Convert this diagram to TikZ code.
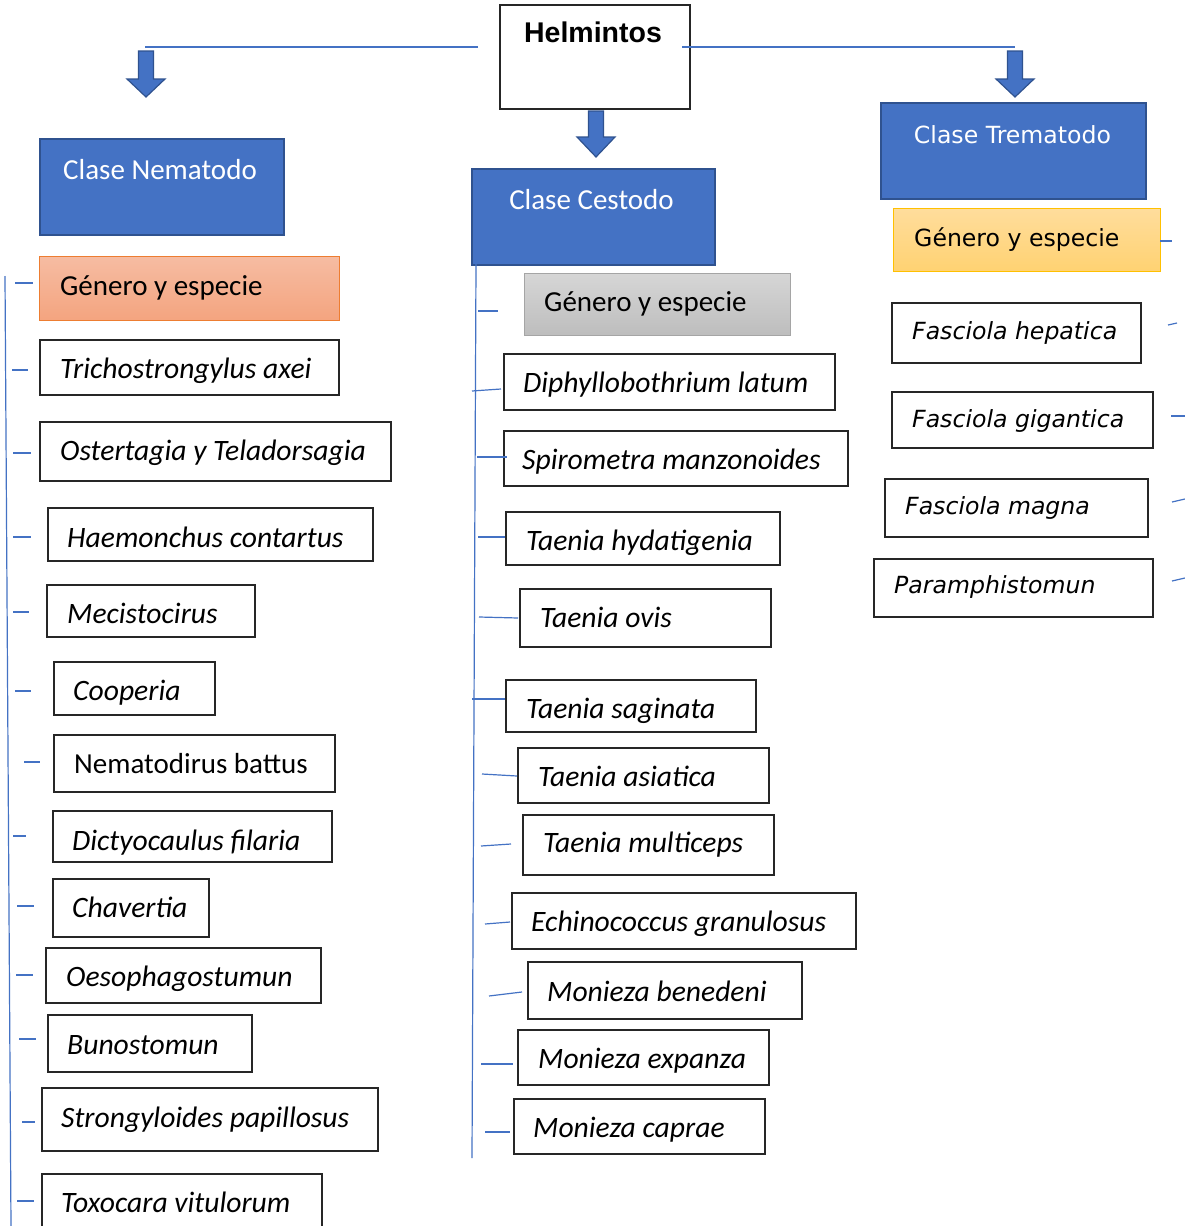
\documentclass[tikz,border=0pt]{standalone}
\usepackage{fontspec}
\setmainfont{Carlito}
\newfontfamily\dv{DejaVu Sans}[ItalicFont={DejaVu Sans Oblique}]
\newfontfamily\ar{Liberation Sans}
\definecolor{accent}{HTML}{4472C4}
\definecolor{accentdk}{HTML}{2F528F}
\definecolor{orgb}{HTML}{ED7D31}
\definecolor{orgt}{HTML}{F6BCA2}
\definecolor{orgbt}{HTML}{F4A47F}
\definecolor{gryb}{HTML}{A5A5A5}
\definecolor{gryt}{HTML}{D6D6D6}
\definecolor{grybt}{HTML}{BDBDBD}
\definecolor{ylwb}{HTML}{FFC000}
\definecolor{ylwt}{HTML}{FFDD9C}
\definecolor{ylwbt}{HTML}{FFD272}
\newcommand\spit{\itshape\fontsize{29.6}{34}\selectfont}
\tikzset{
  spbox/.style={draw=black!85, line width=1.5pt, fill=white, inner sep=0pt, anchor=north west},
  clase/.style={draw=accentdk, fill=accent, line width=2pt, inner sep=0pt, anchor=north west},
  gennem/.style={draw=orgb, line width=1.3pt, top color=orgt, bottom color=orgbt, inner sep=0pt, anchor=north west},
  gences/.style={draw=gryb, line width=1.3pt, top color=gryt, bottom color=grybt, inner sep=0pt, anchor=north west},
  gentre/.style={draw=ylwb, line width=1.3pt, top color=ylwt, bottom color=ylwbt, inner sep=0pt, anchor=north west},
  topbox/.style={draw=black!85, line width=1.5pt, fill=white, inner sep=0pt, anchor=north west},
  link/.style={draw=accent, line width=1.2pt},
  blockarrow/.style={fill=accent, draw=accentdk, line width=1.2pt},
  ctxt/.style={anchor=base west, inner sep=0pt, font=\fontsize{29}{34}\selectfont},
  dtxt/.style={anchor=base west, inner sep=0pt, font=\dv\fontsize{23.6}{28}\selectfont},
  wtxt/.style={anchor=base, inner sep=0pt, text=white, font=\fontsize{29}{34}\selectfont},
  wdtxt/.style={anchor=base, inner sep=0pt, text=white, font=\dv\fontsize{23.6}{28}\selectfont},
}
% #1 box style, #2 name, #3 x1, #4 y1, #5 x2, #6 y2, #7 text x, #8 text baseline, #9 text
\newcommand\mybx[9]{%
  \node[#1, minimum width={(#5-#3)*1pt}, minimum height={(#6-#4)*1pt}] (#2) at (#3,#4) {};
  \node[ctxt] (#2t) at (#7,#8) {#9};
}
\newcommand\mybxd[9]{%
  \node[#1, minimum width={(#5-#3)*1pt}, minimum height={(#6-#4)*1pt}] (#2) at (#3,#4) {};
  \node[dtxt] (#2t) at (#7,#8) {#9};
}
\newcommand\myarrow[4]{%
  \path[blockarrow] ({#1-7.5},#2) -- ({#1+7.5},#2) -- ({#1+7.5},#3) -- ({#1+19},#3)
    -- (#1,#4) -- ({#1-19},#3) -- ({#1-7.5},#3) -- cycle;
}
\begin{document}
\begin{tikzpicture}[x=1pt,y=-1pt]
\useasboundingbox[fill=white] (0,0) rectangle (1185,1226);

% top
\node[topbox, minimum width=190pt, minimum height=104pt] (helm) at (499,4) {};
\node[anchor=base, inner sep=0pt, font=\ar\bfseries\fontsize{28.5}{34}\selectfont] (helmt) at (593,42) {Helmintos};
\coordinate (hl1) at (145,47); \coordinate (hl2) at (478,47);
\coordinate (hr1) at (682,47); \coordinate (hr2) at (1015,47);
\draw[link] (hl2) -- (hl1);
\draw[link] (hr1) -- (hr2);
\myarrow{146}{51}{79}{97}
\myarrow{596}{111}{137}{157}
\myarrow{1015}{51}{79}{97}

% class boxes
\node[clase, minimum width=244pt, minimum height=96pt] (nem) at (39,138) {};
\node[wtxt] (nemt) at (160,179) {Clase Nematodo};
\node[clase, minimum width=243pt, minimum height=96pt] (ces) at (471,168) {};
\node[wtxt] (cest) at (591.5,209) {Clase Cestodo};
\node[clase, minimum width=265pt, minimum height=96pt] (tre) at (880,102) {};
\node[wdtxt] (tret) at (1012.5,143) {Clase Trematodo};

% genero boxes
\mybx{gennem}{gn}{39}{256}{339}{320}{60}{295}{Género y especie}
\mybx{gences}{gc}{524}{273}{790}{335}{544}{311}{Género y especie}
\mybxd{gentre}{gt}{893}{208}{1160}{271}{914}{246.5}{Género y especie}

% Nematodo species
\mybx{spbox}{n1}{39}{339}{338}{394}{60}{378}{\spit Trichostrongylus axei}
\mybx{spbox}{n2}{39}{421}{390}{480}{60}{460}{\spit Ostertagia y Teladorsagia}
\mybx{spbox}{n3}{47}{507}{372}{560}{67}{547}{\spit Haemonchus contartus}
\mybx{spbox}{n4}{46}{584}{254}{636}{67}{623}{\spit Mecistocirus}
\mybx{spbox}{n5}{53}{661}{214}{714}{73}{700}{\spit Cooperia}
\mybx{spbox}{n6}{53}{734}{334}{791}{74}{773}{Nematodirus battus}
\mybx{spbox}{n7}{52}{810}{331}{861}{72}{850}{\spit Dictyocaulus filaria}
\mybx{spbox}{n8}{52}{878}{208}{936}{72}{917}{\spit Chavertia}
\mybx{spbox}{n9}{45}{947}{320}{1002}{66}{986}{\spit Oesophagostumun}
\mybx{spbox}{n10}{47}{1014}{251}{1071}{67}{1054}{\spit Bunostomun}
\mybx{spbox}{n11}{41}{1087}{377}{1150}{61}{1127}{\spit Strongyloides papillosus}
\mybx{spbox}{n12}{41}{1173}{321}{1240}{61}{1212}{\spit Toxocara vitulorum}

% Cestodo species
\mybx{spbox}{c1}{503}{353}{834}{409}{523}{392}{\spit Diphyllobothrium latum}
\mybx{spbox}{c2}{503}{430}{847}{485}{522}{469}{\spit Spirometra manzonoides}
\mybx{spbox}{c3}{505}{511}{779}{564}{526}{550}{\spit Taenia hydatigenia}
\mybx{spbox}{c4}{519}{588}{770}{646}{540}{627}{\spit Taenia ovis}
\mybx{spbox}{c5}{505}{679}{755}{731}{526}{718}{\spit Taenia saginata}
\mybx{spbox}{c6}{517}{747}{768}{802}{538}{786}{\spit Taenia asiatica}
\mybx{spbox}{c7}{522}{814}{773}{874}{543}{852}{\spit Taenia multiceps}
\mybx{spbox}{c8}{511}{892}{855}{948}{531}{931}{\spit Echinococcus granulosus}
\mybx{spbox}{c9}{527}{961}{801}{1018}{547}{1001}{\spit Monieza benedeni}
\mybx{spbox}{c10}{517}{1029}{768}{1084}{538}{1068}{\spit Monieza expanza}
\mybx{spbox}{c11}{513}{1098}{764}{1153}{533}{1137}{\spit Monieza caprae}

% Trematodo species
\mybxd{spbox}{t1}{891}{302}{1140}{362}{912}{339}{\itshape Fasciola hepatica}
\mybxd{spbox}{t2}{891}{391}{1152}{447}{912}{427}{\itshape Fasciola gigantica}
\mybxd{spbox}{t3}{884}{478}{1147}{536}{905}{514}{\itshape Fasciola magna}
\mybxd{spbox}{t4}{873}{558}{1152}{616}{894}{593}{\itshape Paramphistomun}

% Nematodo bracket
\coordinate (nv1) at (5,276); \coordinate (nv2) at (11,1226);
\draw[link] (nv1) -- (nv2);
\foreach \y/\a/\b in {283/15/33, 370/12/28, 453/13/31, 537/13/31, 612/13/29, 691/15/31,
  762/24/40, 836/13/26, 906/17/34, 975/16/33, 1039/19/36, 1122/22/35, 1201/17/34}
  \draw[link] (\a,\y) -- (\b,\y);

% Cestodo bracket
\coordinate (cv1) at (476,264); \coordinate (cv2) at (472,1158);
\draw[link] (cv1) -- (cv2);
\foreach \a/\ya/\b/\yb in {478/311/498/311, 472/391/501/389, 477/457/507/457, 478/537/505/537,
  479/617/518/618, 472/699/505/699, 482/774/517/776, 481/846/511/844, 485/924/510/922,
  489/996/522/992, 481/1064/513/1064, 485/1132/510/1132}
  \draw[link] (\a,\ya) -- (\b,\yb);

% Trematodo ticks
\foreach \a/\ya/\b/\yb in {1160/241/1172/241, 1168/325/1177/323, 1171/416/1185/416,
  1172/502/1185/499, 1172/581/1185/578}
  \draw[link] (\a,\ya) -- (\b,\yb);
\end{tikzpicture}
\end{document}
